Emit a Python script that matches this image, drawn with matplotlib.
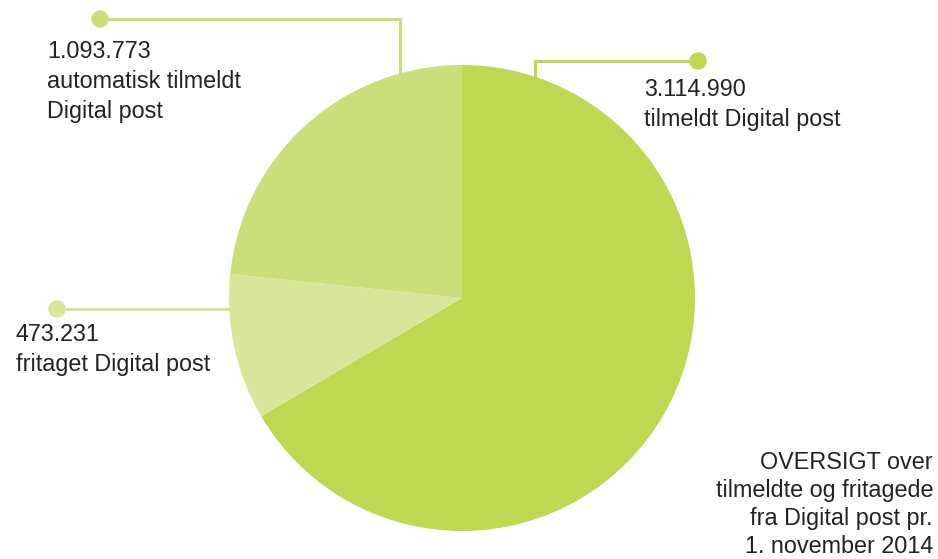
import matplotlib
matplotlib.use("Agg")
import matplotlib.pyplot as plt
from matplotlib.patches import Circle

values = [3114990, 473231, 1093773]
labels = ["3.114.990\ntilmeldt Digital post",
          "473.231\nfritaget Digital post",
          "1.093.773\nautomatisk tilmeldt\nDigital post"]
colors = ["#BFD852", "#D9E699", "#CADF7A"]
title = "OVERSIGT over\ntilmeldte og fritagede\nfra Digital post pr.\n1. november 2014"

W, H = 938, 559
fig = plt.figure(figsize=(W/100, H/100), dpi=100)
ax = fig.add_axes([0, 0, 1, 1])

def Y(y):
    return H - y

cx, cy, r = 462, Y(298), 233
ax.pie(values, colors=colors, startangle=90, counterclock=False,
       center=(cx, cy), radius=r, frame=True,
       wedgeprops=dict(linewidth=0))
ax.set_xlim(0, W)
ax.set_ylim(0, H)
ax.set_aspect("equal")
ax.axis("off")

font = dict(family="Liberation Sans", fontsize=16.8, color="#222222", linespacing=1.4)
lw = 2.2

# top-left leader (automatisk)
ax.plot([100, 400, 400], [Y(19), Y(19), Y(78)], color=colors[2], lw=lw, solid_capstyle="butt")
ax.add_patch(Circle((100, Y(19)), 8, color=colors[2]))
ax.text(47, Y(40), labels[2], ha="left", va="top", **font)

# top-right leader (tilmeldt)
ax.plot([698, 535, 535], [Y(61), Y(61), Y(80)], color=colors[0], lw=lw, solid_capstyle="butt")
ax.add_patch(Circle((698, Y(61)), 8, color=colors[0]))
ax.text(644, Y(78), labels[0], ha="left", va="top", **font)

# left leader (fritaget)
ax.plot([57, 231], [Y(309), Y(309)], color=colors[1], lw=lw, solid_capstyle="butt")
ax.add_patch(Circle((57, Y(309)), 8, color=colors[1]))
ax.text(16, Y(323), labels[1], ha="left", va="top", **font)

font_t = dict(font, linespacing=1.28)
ax.text(933, Y(451), title, ha="right", va="top", **font_t)

fig.savefig("out.png", dpi=100)
